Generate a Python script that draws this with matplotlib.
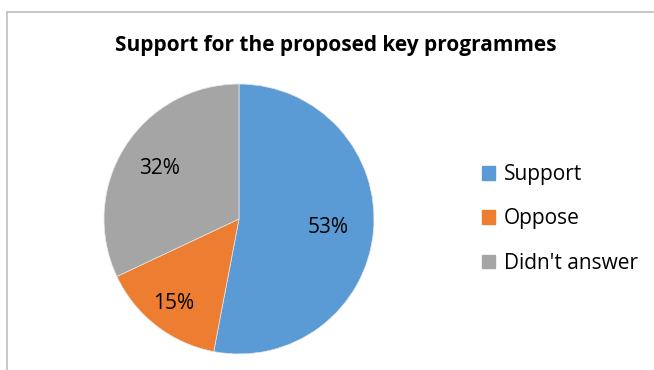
import matplotlib
matplotlib.use("Agg")
import numpy as np
import matplotlib.pyplot as plt
from matplotlib.lines import Line2D

plt.rcParams["font.family"] = ["Open Sans", "DejaVu Sans"]

# Survey responses (percent)
categories = ["Support", "Oppose", "Didn't answer"]
shares = [53, 15, 32]
colors = ["#5B9BD5", "#ED7D31", "#A5A5A5"]
label_dist = [0.66, 0.79, 0.70]

W, H = 654, 370
fig = plt.figure(figsize=(W / 100, H / 100), dpi=100)

# light chart-area frame along the top and left edges
fig.add_artist(Line2D([7 / W, 7 / W], [0, 1 - 12 / H], transform=fig.transFigure,
                      color="#BFBFBF", lw=1.2))
fig.add_artist(Line2D([7 / W, 1], [1 - 12 / H, 1 - 12 / H], transform=fig.transFigure,
                      color="#BFBFBF", lw=1.2))

cx, cy, r = 239, 219, 135
ax = fig.add_axes([(cx - r) / W, (H - cy - r) / H, 2 * r / W, 2 * r / H])
wedges, _ = ax.pie(shares, colors=colors, startangle=90, counterclock=False,
                   radius=1.0, wedgeprops=dict(edgecolor="#E8E8E8", linewidth=0.5))
ax.set_xlim(-1, 1)
ax.set_ylim(-1, 1)
ax.set_aspect("equal")

# percentage labels inside each slice
start = 90.0
total = sum(shares)
for val, d in zip(shares, label_dist):
    mid = start - val / total * 180.0
    ang = np.deg2rad(mid)
    ax.text(d * np.cos(ang), d * np.sin(ang), f"{val}%", ha="center", va="center",
            fontsize=15, color="#000000")
    start -= val / total * 360.0

fig.text(336 / W, 1 - 45 / H, "Support for the proposed key programmes",
         ha="center", va="center", fontsize=15, fontweight="bold", color="#000000")

handles = [plt.Rectangle((0, 0), 1, 1, color=c) for c in colors]
fig.legend(handles, categories, loc="center left", bbox_to_anchor=(463 / W, 1 - 219 / H),
           frameon=False, fontsize=15, handlelength=0.65, handleheight=0.65,
           handletextpad=0.4, labelspacing=1.12)

fig.savefig("out.png", dpi=100)
